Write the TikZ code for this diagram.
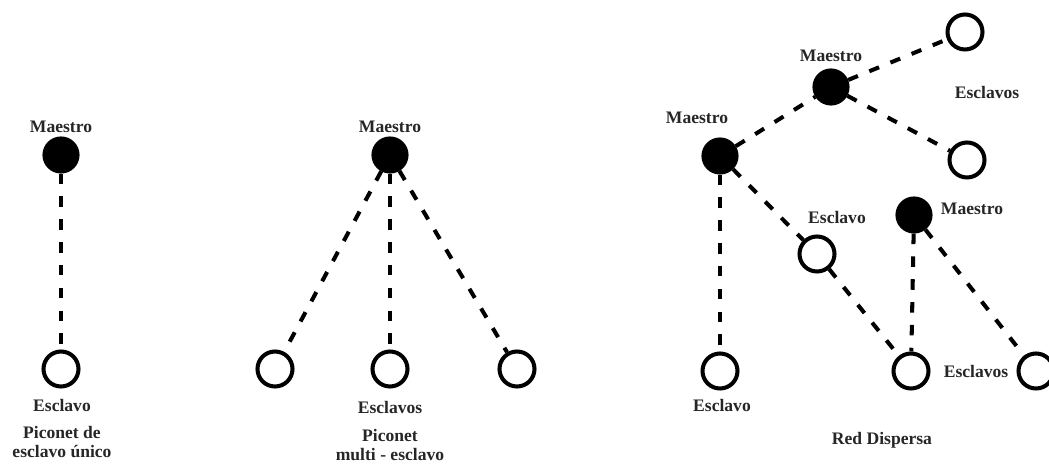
\documentclass[tikz,border=0pt]{standalone}
\usepackage{fontspec}
\setmainfont{Liberation Serif}
\usepackage{tikz}

\tikzset{
    master/.style={circle,fill=black,draw=black,line width=1.2pt,minimum size=0.7cm,inner sep=0pt},
    slave/.style={circle,draw=black,fill=white,line width=2.3pt,minimum size=0.7cm,inner sep=0pt},
    link/.style={line width=2.3pt,dash pattern=on 6pt off 7pt},
    txt/.style={font=\fontsize{10}{11}\selectfont\bfseries,text=black!85,inner sep=0pt,align=center}
}

\begin{document}
\begin{tikzpicture}
        \useasboundingbox (0,0) rectangle (20.98,9.3);

        % piconet de un esclavo
        \node[master] (m1) at (1.22,6.2) {};
        \node[slave] (s1) at (1.22,1.92) {};
        \draw[link] (m1)--(s1);
        \node[txt] (m1txt) at (1.22,6.76) {Maestro};
        \node[txt] (s1txt) at (1.24,1.2) {Esclavo};
        \node[txt] (t1) at (1.24,0.46) {Piconet de\\esclavo único};

        % piconet multi-esclavo
        \node[master] (m2) at (7.8,6.2) {};
        \node[slave] (s2a) at (5.5,1.92) {};
        \node[slave] (s2b) at (7.8,1.92) {};
        \node[slave] (s2c) at (10.34,1.92) {};
        \draw[link] (m2)--(s2a);
        \draw[link] (m2)--(s2b);
        \draw[link] (m2)--(s2c);
        \node[txt] (m2txt) at (7.8,6.76) {Maestro};
        \node[txt] (s2txt) at (7.8,1.16) {Esclavos};
        \node[txt] (t2) at (7.8,0.4) {Piconet\\multi - esclavo};

        % red dispersa
        \node[master] (ma) at (14.4,6.18) {};
        \node[master] (mb) at (16.62,7.56) {};
        \node[master] (mc) at (18.28,5.0) {};
        \node[slave] (sa) at (19.3,8.66) {};
        \node[slave] (sb) at (19.34,6.1) {};
        \node[slave] (sc) at (16.34,4.22) {};
        \node[slave] (sd) at (14.4,1.88) {};
        \node[slave] (se) at (18.22,1.88) {};
        \node[slave] (sf) at (20.72,1.88) {};
        \draw[link] (ma)--(mb);
        \draw[link] (mb)--(sa);
        \draw[link] (mb)--(sb);
        \draw[link] (ma)--(sd);
        \draw[link] (ma)--(sc);
        \draw[link] (sc)--(se);
        \draw[link] (mc)--(se);
        \draw[link] (mc)--(sf);
        \node[txt] (matxt) at (13.94,6.94) {Maestro};
        \node[txt] (mbtxt) at (16.62,8.18) {Maestro};
        \node[txt] (mctxt) at (19.44,5.12) {Maestro};
        \node[txt] (sabtxt) at (19.74,7.46) {Esclavos};
        \node[txt] (sctxt) at (16.74,4.96) {Esclavo};
        \node[txt] (sdtxt) at (14.44,1.2) {Esclavo};
        \node[txt] (setxt) at (19.52,1.88) {Esclavos};
        \node[txt] (t3) at (17.64,0.5) {Red Dispersa};
    \end{tikzpicture}
\end{document}
